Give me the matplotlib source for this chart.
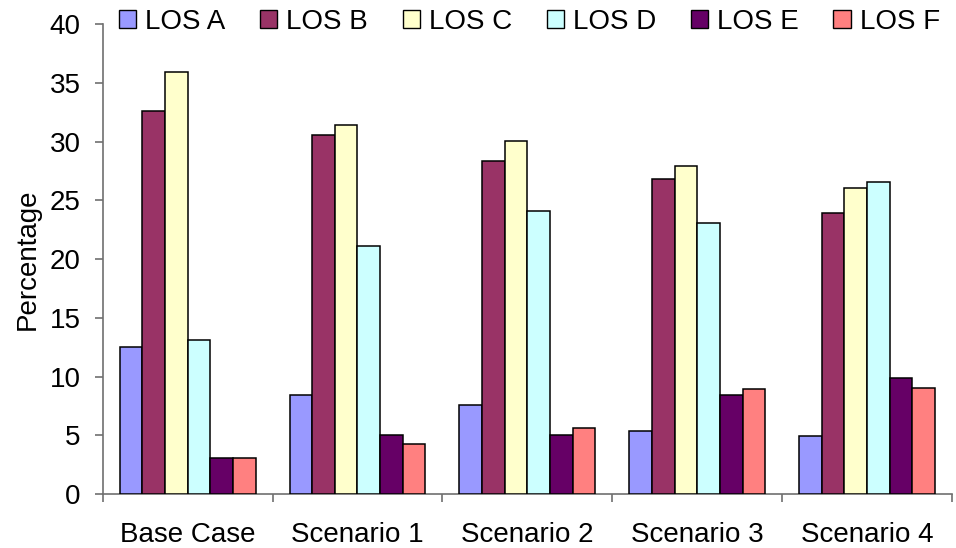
import matplotlib
matplotlib.use("Agg")
import matplotlib.pyplot as plt
import numpy as np
from matplotlib.patches import Patch

categories = ["Base Case", "Scenario 1", "Scenario 2", "Scenario 3", "Scenario 4"]
series_names = ["LOS A", "LOS B", "LOS C", "LOS D", "LOS E", "LOS F"]
los_a = [12.5, 8.4, 7.6, 5.4, 4.9]
los_b = [32.6, 30.6, 28.4, 26.8, 23.9]
los_c = [35.9, 31.4, 30.1, 27.9, 26.1]
los_d = [13.1, 21.1, 24.1, 23.1, 26.6]
los_e = [3.1, 5.0, 5.0, 8.4, 9.9]
los_f = [3.1, 4.25, 5.6, 8.9, 9.0]
series = [los_a, los_b, los_c, los_d, los_e, los_f]
colors = ["#9999FF", "#993366", "#FFFFCC", "#CCFFFF", "#660066", "#FF8080"]

plt.rcParams['font.family'] = ['Liberation Sans', 'DejaVu Sans']
FS = 20

fig = plt.figure(figsize=(9.56, 5.48), dpi=100)
ax = fig.add_axes([102.7/956, 54/548, (952-102.7)/956, (494-24.3)/548])

x = np.arange(len(categories))
w = 0.8 / 6
for i, (vals, c) in enumerate(zip(series, colors)):
    ax.bar(x + (i - 2.5) * w, vals, width=w, color=c, edgecolor="black",
           linewidth=1.1, label=series_names[i], zorder=3)

ax.set_xlim(-0.5, len(categories) - 0.5)
ax.set_ylim(0, 40)
ax.set_yticks(np.arange(0, 41, 5))
ax.set_xticks(x)
ax.set_xticklabels(categories)
ax.set_xticks(np.arange(-0.5, len(categories), 1.0), minor=True)

spine_color = "#707070"
for s in ["top", "right"]:
    ax.spines[s].set_visible(False)
for s in ["left", "bottom"]:
    ax.spines[s].set_color(spine_color)
    ax.spines[s].set_linewidth(1.2)

ax.tick_params(axis="x", which="major", length=0, pad=20, labelsize=FS)
ax.tick_params(axis="x", which="minor", length=6, width=1.2, color=spine_color, direction="out")
ax.tick_params(axis="y", which="major", length=6, width=1.2, color=spine_color, pad=10, labelsize=FS)

ax.set_ylabel("Percentage", fontsize=FS, labelpad=6)

handles = [Patch(facecolor=c, edgecolor="black", linewidth=1.0) for c in colors]
fig.legend(handles, series_names, loc="center left", bbox_to_anchor=(119/956, 1 - 22/548),
           ncol=6, frameon=False, fontsize=FS, handlelength=0.62, handleheight=0.62,
           handletextpad=0.33, columnspacing=1.24, borderaxespad=0, borderpad=0)

fig.savefig("out.png", dpi=100)
